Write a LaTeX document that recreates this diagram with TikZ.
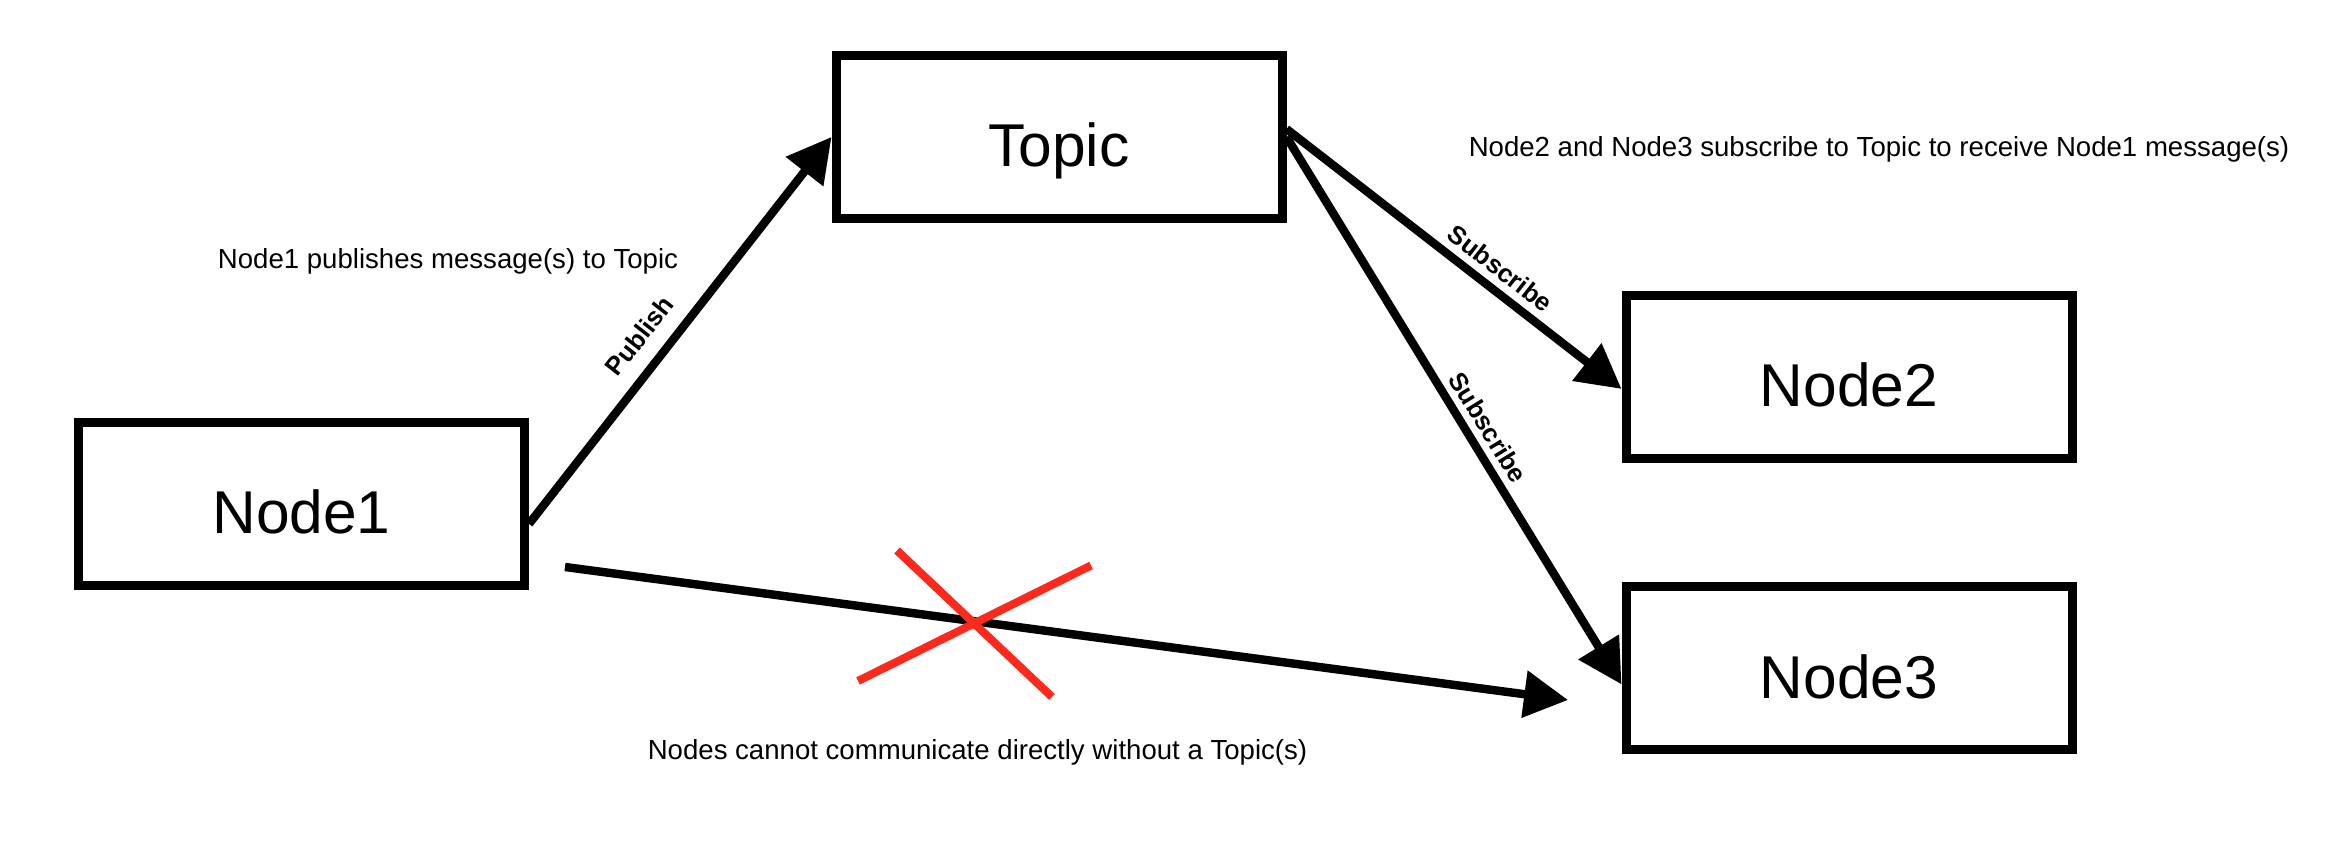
\documentclass[tikz,border=0pt]{standalone}
\usepackage{fontspec}
\setmainfont{Liberation Sans}
\usetikzlibrary{arrows.meta}
\definecolor{crossred}{RGB}{252,42,28}
\begin{document}
\begin{tikzpicture}[
		nodebox/.style={draw, line width=2.56pt, minimum width=4.46cm, minimum height=1.63cm, text height=17pt, text depth=0pt, font=\fontsize{17.2}{20}\selectfont},
		msg/.style={anchor=base, inner sep=0pt, font=\fontsize{7.85}{9}\selectfont},
		linklabel/.style={sloped, above=#1, inner sep=0pt, font=\bfseries\fontsize{7.3}{8}\selectfont},
		link/.style={line width=2.4pt, -{Triangle[length=12.5pt,width=13pt]}},
		cross/.style={crossred, line width=2.3pt}]
				
				\useasboundingbox (0,0) rectangle (23.44,8.46);
				\node[nodebox] (node1) at (3.015,3.42) {Node1};
				\node[nodebox] (topic) at (10.59,7.09) {Topic};
				\node[nodebox] (node2) at (18.49,4.69) {Node2};
				\node[nodebox] (node3) at (18.49,1.775) {Node3};
				
				\node[msg] (pubnote) at (4.48,5.778) {Node1 publishes message(s) to Topic};
				\node[msg] (subnote) at (18.79,6.892) {Node2 and Node3 subscribe to Topic to receive Node1 message(s)};
				\node[msg] (directnote) at (9.775,0.86) {Nodes cannot communicate directly without a Topic(s)};
				
				\draw[link] (node1.-5) -- node[linklabel=4.4pt, pos=0.44] {Publish} (topic.west);
				\draw[link] (topic.2) -- node[linklabel=2.1pt, pos=0.6] {Subscribe} (node2.183);
				\draw[link] (topic.east) -- node[linklabel=1.9pt, pos=0.55] {Subscribe} (node3.184);
				
				% no direct path between nodes
				\coordinate (directstart) at (5.65,2.79);
				\coordinate (directend) at (15.68,1.46);
				\draw[link] (directstart) -- (directend);
				\draw[cross] (8.97,2.955) -- (10.52,1.49);
				\draw[cross] (8.58,1.65) -- (10.91,2.805);
			\end{tikzpicture}
\end{document}
